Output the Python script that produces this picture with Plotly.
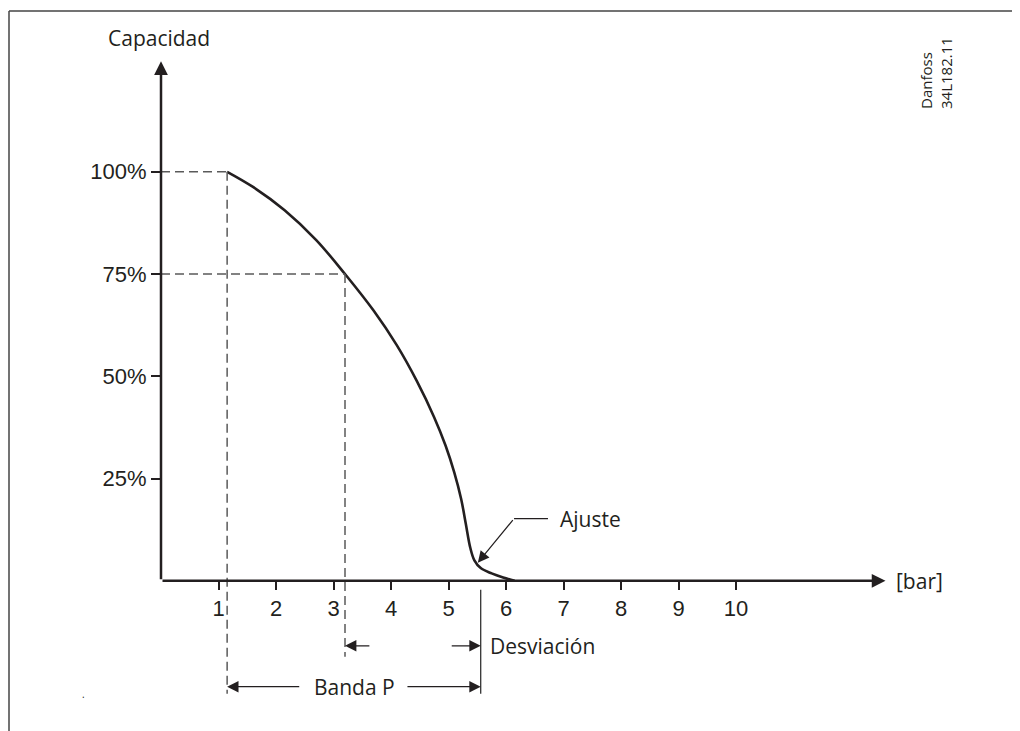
import plotly.graph_objects as go

# ---- data ----
curve_x = [1.15, 1.6, 2.15, 2.7, 3.2, 3.7, 4.1, 4.45, 4.75, 4.95, 5.1, 5.22, 5.30, 5.38, 5.45, 5.56, 5.75, 5.95, 6.15]
curve_y = [100, 96.3, 90.6, 83.3, 75.0, 66.0, 57.6, 48.8, 40.0, 33.0, 26.5, 20.0, 14.0, 8.0, 5.0, 3.1, 1.8, 0.8, 0]
x_ticks = [1, 2, 3, 4, 5, 6, 7, 8, 9, 10]
y_ticks = [25, 50, 75, 100]
y_tick_text = ["25%", "50%", "75%", "100%"]
p100_x = 1.15
p75_x = 3.2
ajuste_x, ajuste_y = 5.51, 4.4
desv_x = 5.56

INK = "#231f20"
DASH = "#5a5a5a"
TXT_FONT = "Open Sans"
NUM_FONT = "Liberation Sans"

YMIN, YMAX = -36, 131
XMIN, XMAX = 0, 14.8
PW, PH = 851, 683  # plot area size in px

def px2paper_x(px):
    return (px - 161) / PW
def px2paper_y(py):
    return (728 - py) / PH

fig = go.Figure()
fig.add_trace(go.Scatter(x=curve_x, y=curve_y, mode="lines",
                         line=dict(color=INK, width=2.6, shape="spline", smoothing=1.0),
                         hoverinfo="skip", showlegend=False))

shapes = []
def dline(x0, y0, x1, y1):
    shapes.append(dict(type="line", xref="x", yref="y", x0=x0, y0=y0, x1=x1, y1=y1,
                       line=dict(color=DASH, width=1.5, dash="9px,5px")))
def sline(x0, y0, x1, y1, w=1.2, col=INK):
    shapes.append(dict(type="line", xref="x", yref="y", x0=x0, y0=y0, x1=x1, y1=y1,
                       line=dict(color=col, width=w)))

dline(0, 100, p100_x, 100)
dline(0, 75, p75_x, 75)
dline(p100_x, 100, p100_x, -27.6)
dline(p75_x, 75, p75_x, -18.6)
# Desviación vertical
sline(desv_x, -2.2, desv_x, -27.6, w=1.3, col="#333")
# Ajuste leader horizontal
sline(6.14, 15.2, 6.73, 15.2, w=1.2)
# frame (top and left)
shapes.append(dict(type="line", xref="paper", yref="paper", x0=px2paper_x(9), x1=1.1,
                   y0=px2paper_y(11), y1=px2paper_y(11), line=dict(color="#444", width=1.5)))
shapes.append(dict(type="line", xref="paper", yref="paper", x0=px2paper_x(9), x1=px2paper_x(9),
                   y0=px2paper_y(11), y1=-0.1, line=dict(color="#444", width=1.5)))

ann = []
def arrow(xt, yt, xs, ys, w=2.5, size=1.0, head=2):
    ann.append(dict(x=xt, y=yt, ax=xs, ay=ys, xref="x", yref="y", axref="x", ayref="y",
                    text="", showarrow=True, arrowhead=head, arrowsize=size,
                    arrowwidth=w, arrowcolor=INK, standoff=0, startstandoff=0))
# axes with arrows
arrow(12.6, 0, 0.0, 0, w=2.5, size=1.1)
arrow(0.0, 127, 0.0, 0, w=2.5, size=1.1)
# Ajuste arrow
arrow(ajuste_x, ajuste_y, 6.14, 15.2, w=1.2, size=1.9)
# Desviación arrows
arrow(desv_x, -15.9, 5.03, -15.9, w=1.2, size=1.9)
arrow(p75_x, -15.9, 3.65, -15.9, w=1.2, size=1.9)
# Banda P arrows
arrow(p100_x, -25.9, 2.43, -25.9, w=1.2, size=1.9)
arrow(desv_x, -25.9, 4.26, -25.9, w=1.2, size=1.9)

def text(x, y, s, size=21, xanchor="left", xref="x", yref="y", **kw):
    ann.append(dict(x=x, y=y, xref=xref, yref=yref, text=s, showarrow=False,
                    xanchor=xanchor, yanchor="middle",
                    font=dict(family=TXT_FONT, size=size, color=INK), **kw))

text(6.9, 15.2, "Ajuste")
text(5.69, -15.9, "Desviación")
text(3.36, -25.9, "Banda P", xanchor="center")
text(12.75, 0, "[bar]")
text(px2paper_x(159), px2paper_y(38), "Capacidad", xanchor="center", xref="paper", yref="paper")
ann.append(dict(x=px2paper_x(936), y=px2paper_y(111), xref="paper", yref="paper",
                text="Danfoss<br>34L182.11", xanchor="center", yanchor="bottom",
                showarrow=False, textangle=-90, align="left",
                font=dict(family=TXT_FONT, size=15, color=INK)))
ann.append(dict(x=px2paper_x(80), y=px2paper_y(703), xref="paper", yref="paper", text=".",
                showarrow=False, font=dict(family=TXT_FONT, size=10, color=INK)))

fig.update_layout(
    width=1020, height=731,
    margin=dict(l=153, r=16, t=37, b=11, autoexpand=False),
    paper_bgcolor="white", plot_bgcolor="white",
    showlegend=False,
    shapes=shapes, annotations=ann,
    xaxis=dict(range=[XMIN, XMAX], anchor="free", position=(0 - YMIN) / (YMAX - YMIN),
               tickmode="array", tickvals=x_ticks, ticktext=[str(v) for v in x_ticks],
               ticks="outside", ticklen=8, tickwidth=2, tickcolor=INK,
               showline=False, showgrid=False, zeroline=False,
               tickfont=dict(family=NUM_FONT, size=22, color=INK)),
    yaxis=dict(range=[YMIN, YMAX],
               tickmode="array", tickvals=y_ticks, ticktext=y_tick_text,
               ticks="outside", ticklen=9, tickwidth=2, tickcolor=INK,
               showline=False, showgrid=False, zeroline=False,
               tickfont=dict(family=NUM_FONT, size=22, color=INK)),
)

fig.write_html("out.html")
